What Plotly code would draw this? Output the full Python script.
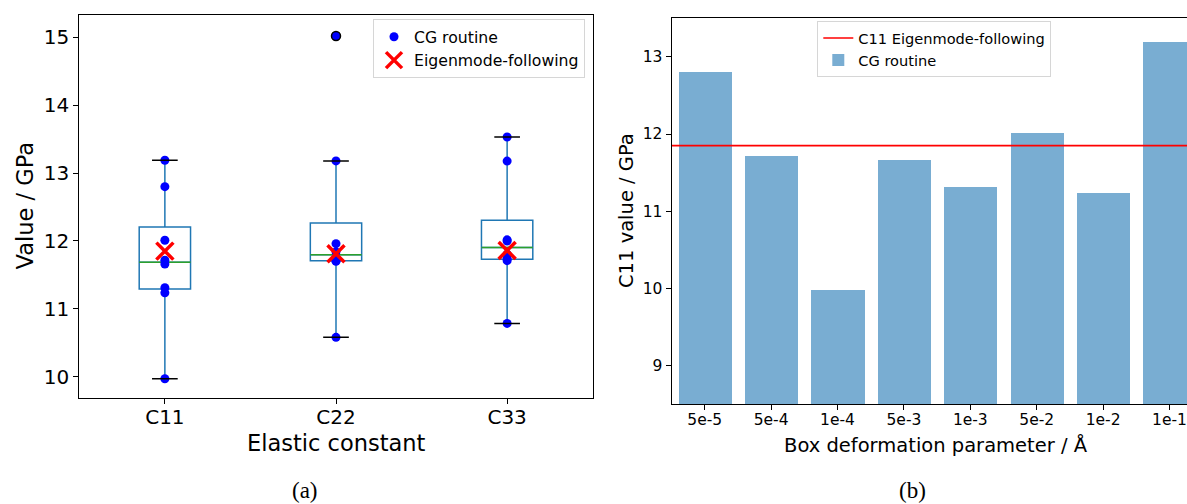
import numpy as np
import plotly.graph_objects as go

# ---------------- data ----------------
constants = ["C11", "C22", "C33"]
c11_values = [12.80, 11.715, 9.97, 11.66, 11.31, 12.01, 11.235, 13.19]
c22_values = [15.02, 13.18, 11.96, 11.84, 11.75, 11.71, 11.70, 10.58]
c33_values = [13.532, 13.177, 12.016, 12.00, 11.804, 11.737, 11.71, 10.785]
eigen_values = [11.85, 11.81, 11.86]

param_labels = ["5e-5", "5e-4", "1e-4", "5e-3", "1e-3", "5e-2", "1e-2", "1e-1"]
c11_cg_by_param = [12.80, 11.715, 9.97, 11.66, 11.31, 12.01, 11.235, 13.19]
c11_eigen = 11.85

WHIS = 3.0

# ---------------- geometry helpers ----------------
W, H = 1187, 504
def px(x):
    return x / W
def py(y):
    return 1 - y / H

FONT = "DejaVu Sans"
BOX_BLUE = "#1f77b4"

positions = [1, 2, 3]
groups = [c11_values, c22_values, c33_values]

q1s, meds, q3s, los, his = [], [], [], [], []
flier_x, flier_y = [], []
for p, vals in zip(positions, groups):
    v = np.sort(np.asarray(vals, dtype=float))
    q1, med, q3 = np.percentile(v, [25, 50, 75])
    iqr = q3 - q1
    lo = v[v >= q1 - WHIS * iqr].min()
    hi = v[v <= q3 + WHIS * iqr].max()
    q1s.append(q1); meds.append(med); q3s.append(q3); los.append(lo); his.append(hi)
    for f in v[(v < lo) | (v > hi)]:
        flier_x.append(p); flier_y.append(f)

BOX_HALF = 0.15
CAP_HALF = 0.075

med_x, med_y, cap_x, cap_y = [], [], [], []
for p, m, lo, hi in zip(positions, meds, los, his):
    med_x += [p - BOX_HALF, p + BOX_HALF, None]
    med_y += [m, m, None]
    for w in (lo, hi):
        cap_x += [p - CAP_HALF, p + CAP_HALF, None]
        cap_y += [w, w, None]

pts_x, pts_y = [], []
for p, vals in zip(positions, groups):
    pts_x += [p] * len(vals)
    pts_y += list(vals)

fig = go.Figure()

# ---- left panel ----
fig.add_trace(go.Box(
    x=positions, q1=q1s, median=meds, q3=q3s, lowerfence=los, upperfence=his,
    width=2 * BOX_HALF, whiskerwidth=0, boxpoints=False,
    fillcolor="rgba(0,0,0,0)", line=dict(color=BOX_BLUE, width=1.5),
    showlegend=False, hoverinfo="skip", xaxis="x", yaxis="y"))
fig.add_trace(go.Scatter(x=med_x, y=med_y, mode="lines",
    line=dict(color="#2ca02c", width=1.5), showlegend=False,
    hoverinfo="skip", xaxis="x", yaxis="y"))
fig.add_trace(go.Scatter(x=pts_x, y=pts_y, mode="markers", name="CG routine",
    marker=dict(color="blue", size=9, line=dict(width=0)),
    legend="legend", xaxis="x", yaxis="y"))
fig.add_trace(go.Scatter(x=flier_x, y=flier_y, mode="markers",
    marker=dict(symbol="circle-open", color="black", size=9, line=dict(width=1.5, color="black")),
    showlegend=False, hoverinfo="skip", xaxis="x", yaxis="y"))
fig.add_trace(go.Scatter(x=cap_x, y=cap_y, mode="lines",
    line=dict(color="black", width=1.5), showlegend=False,
    hoverinfo="skip", xaxis="x", yaxis="y"))
fig.add_trace(go.Scatter(x=positions, y=eigen_values, mode="markers",
    name="Eigenmode-following",
    marker=dict(symbol="x-thin", size=17, color="red", line=dict(width=3.5, color="red")),
    legend="legend", xaxis="x", yaxis="y"))

# ---- right panel ----
bar_x = list(range(len(param_labels)))
fig.add_trace(go.Scatter(x=[bar_x[0] - 0.5, bar_x[-1] + 0.5], y=[c11_eigen, c11_eigen],
    mode="lines", name="C11 Eigenmode-following", line=dict(color="red", width=1.6),
    legend="legend2", legendrank=1, xaxis="x2", yaxis="y2"))
fig.add_trace(go.Bar(x=bar_x, y=c11_cg_by_param, width=0.8, name="CG routine",
    marker=dict(color="#79add2", line=dict(width=0)),
    legend="legend2", legendrank=2, xaxis="x2", yaxis="y2"))

axis_common = dict(showline=True, linecolor="black", linewidth=1, ticks="outside",
                   ticklen=5, tickwidth=1, tickcolor="black", showgrid=False,
                   zeroline=False, automargin=False)

fig.update_layout(
    width=W, height=H, margin=dict(l=0, r=0, t=0, b=0),
    paper_bgcolor="white", plot_bgcolor="white",
    font=dict(family=FONT, color="black"),
    xaxis=dict(domain=[px(79.3), px(592.7)], range=[0.5, 3.5], tickvals=positions,
               ticktext=constants, tickfont=dict(size=20), mirror=True, anchor="y",
               ticklabelstandoff=-4, **axis_common),
    yaxis=dict(domain=[py(397.7), py(15)], range=[9.69, 15.33], tickvals=[10, 11, 12, 13, 14, 15],
               tickfont=dict(size=20), mirror=True, anchor="x", **axis_common),
    xaxis2=dict(domain=[px(671.5), 1.0], range=[-0.5, -0.5 + (W - 671.5) / 66.4],
                tickvals=bar_x, ticktext=param_labels, tickfont=dict(size=15.5),
                mirror=True, anchor="y2", ticklabelstandoff=-4, **axis_common),
    yaxis2=dict(domain=[py(404), py(18.3)], range=[8.5, 13.5], tickvals=[9, 10, 11, 12, 13],
                tickfont=dict(size=15.5), mirror=False, anchor="x2", **axis_common),
    legend=dict(x=px(585), xanchor="right", y=py(19), yanchor="top",
                bordercolor="#d6d6d6", borderwidth=1, bgcolor="rgba(255,255,255,0.85)",
                font=dict(size=15.7)),
    legend2=dict(x=px(817.3), xanchor="left", y=py(21), yanchor="top",
                 bordercolor="#d6d6d6", borderwidth=1, bgcolor="rgba(255,255,255,0.85)",
                 font=dict(size=14.6), traceorder="normal"),
    bargap=0,
)

annots = [
    dict(text="Value / GPa", x=px(25), y=py(206.4), textangle=-90, font=dict(size=22.5)),
    dict(text="Elastic constant", x=px(336), y=py(443), font=dict(size=22.5)),
    dict(text="C11 value / GPa", x=px(626), y=py(211), textangle=-90, font=dict(size=19.5)),
    dict(text="Box deformation parameter / Å", x=px(936), y=py(445), font=dict(size=19.5)),
    dict(text="(a)", x=px(305), y=py(490), font=dict(size=23, family="Liberation Serif")),
    dict(text="(b)", x=px(912), y=py(490), font=dict(size=23, family="Liberation Serif")),
]
for a in annots:
    fig.add_annotation(xref="paper", yref="paper", showarrow=False,
                       xanchor="center", yanchor="middle", **a)

fig.write_html("out.html", config={"displayModeBar": False},
               post_script="document.body.style.margin='0';document.body.style.overflow='hidden';")
